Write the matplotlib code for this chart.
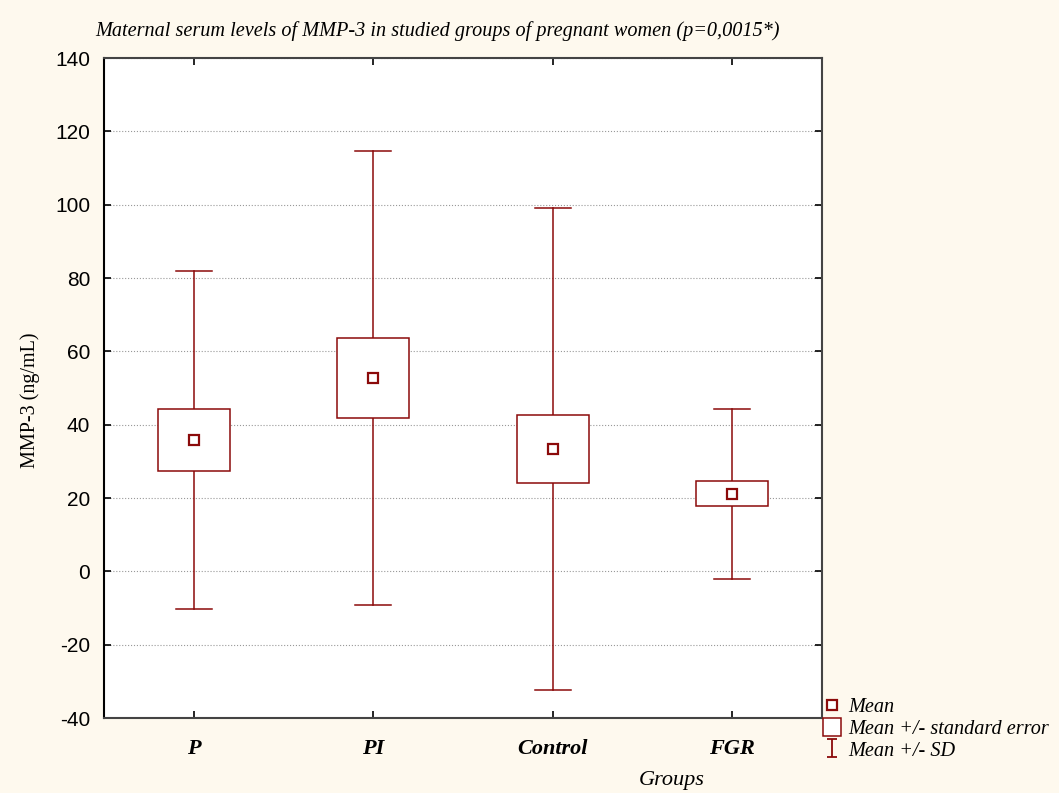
import matplotlib.pyplot as plt
from matplotlib.patches import Rectangle
from matplotlib.lines import Line2D
from matplotlib.path import Path

groups = ["P", "PI", "Control", "FGR"]
means = [35.8, 52.7, 33.4, 21.1]
se = [8.5, 10.8, 9.2, 3.4]
sd = [46.1, 61.8, 65.8, 23.2]

red = "#8B0A0A"
bg = "#FEF9EE"
serif = "Liberation Serif"
sans = "Liberation Sans"

plt.rcParams["axes.unicode_minus"] = False

fig = plt.figure(figsize=(10.59, 7.93), dpi=100, facecolor=bg)
ax = fig.add_axes([104 / 1059, 1 - 718 / 793, 718 / 1059, 660 / 793])
ax.set_facecolor("white")

x = [i + 0.5 for i in range(len(groups))]
for xi, m, e, s in zip(x, means, se, sd):
    # SD whiskers
    ax.plot([xi, xi], [m + e, m + s], color=red, lw=1.1, zorder=3)
    ax.plot([xi, xi], [m - s, m - e], color=red, lw=1.1, zorder=3)
    ax.plot([xi - 0.1, xi + 0.1], [m + s, m + s], color=red, lw=1.1, zorder=3)
    ax.plot([xi - 0.1, xi + 0.1], [m - s, m - s], color=red, lw=1.1, zorder=3)
    # SE box
    ax.add_patch(Rectangle((xi - 0.2, m - e), 0.4, 2 * e, fill=True,
                           facecolor="white", edgecolor=red, lw=1.1, zorder=3))
ax.plot(x, means, ls="none", marker="s", ms=7, mfc="white", mec=red, mew=1.6, zorder=4)

ax.set_xlim(0, 4)
ax.set_ylim(-40, 140)
ax.set_yticks(range(-40, 141, 20))
ax.set_xticks(x)
ax.set_xticklabels(groups, fontfamily=serif, fontsize=16, fontweight="bold", fontstyle="italic")
for lab in ax.get_yticklabels():
    lab.set_fontfamily(sans)
    lab.set_fontsize(15)
ax.tick_params(direction="in", top=True, right=True, length=5, width=1.2)
ax.tick_params(axis="x", pad=15)
ax.tick_params(axis="y", pad=10)
ax.yaxis.grid(True, ls=":", color="#999999", lw=0.8)
for sp in ax.spines.values():
    sp.set_color("#444444")
    sp.set_linewidth(1.5)
ax.spines["left"].set_color("black")

fig.text(30 / 1059, 1 - 400 / 793, "MMP-3 (ng/mL)", fontfamily=serif, fontsize=14.5,
         rotation=90, ha="center", va="center")
fig.text(672 / 1059, 1 - 781 / 793, "Groups", fontfamily=serif, fontstyle="italic",
         fontsize=16, ha="center", va="center")
fig.text(437 / 1059, 1 - 31 / 793,
         "Maternal serum levels of MMP-3 in studied groups of pregnant women (p=0,0015*)",
         fontfamily=serif, fontstyle="italic", fontsize=14.6, ha="center", va="center")

sd_marker = Path([(-0.5, -1), (0.5, -1), (0, -1), (0, 1), (-0.5, 1), (0.5, 1)],
                 [Path.MOVETO, Path.LINETO, Path.MOVETO, Path.LINETO, Path.MOVETO, Path.LINETO])
handles = [
    Line2D([], [], ls="none", marker="s", ms=7, mfc="white", mec=red, mew=1.6),
    Line2D([], [], ls="none", marker="s", ms=13, mfc="white", mec=red, mew=1.1),
    Line2D([], [], ls="none", marker=sd_marker, ms=13, mfc="none", mec=red, mew=1.3),
]
labels = ["Mean", "Mean +/- standard error", "Mean +/- SD"]
fig.legend(handles, labels, loc="upper left", bbox_to_anchor=(814 / 1059, 1 - 690 / 793),
           frameon=False, prop={"family": serif, "style": "italic", "size": 14.6},
           handlelength=1.0, handletextpad=0.3, labelspacing=0.12, borderaxespad=0)

fig.savefig("out.png", dpi=100, facecolor=bg)
